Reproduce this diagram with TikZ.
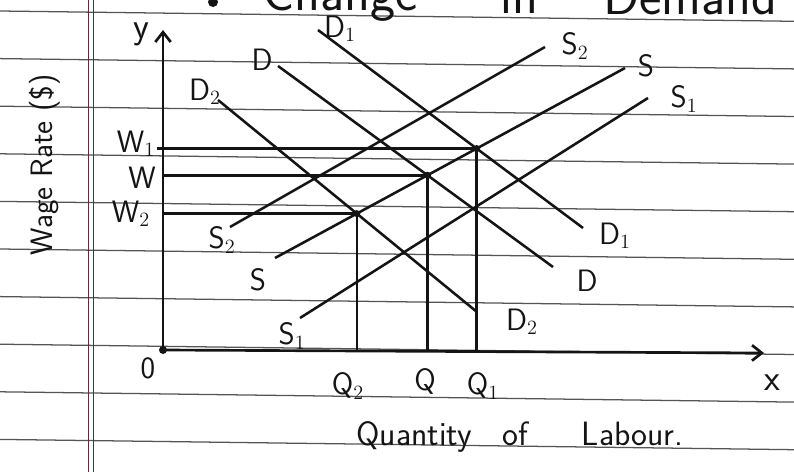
\documentclass[tikz,border=0pt]{standalone}
\usepackage{xcolor}
\usepackage{tikz}
\usetikzlibrary{arrows.meta}
\definecolor{ink}{RGB}{20,20,20}
\definecolor{ruleline}{RGB}{85,85,85}
\definecolor{marginred}{RGB}{95,45,55}

\begin{document}
\begin{tikzpicture}[
      x=0.025cm, y=-0.025cm,
      >={Straight Barb[length=7pt,width=11pt]},
      rule/.style   ={draw=ruleline, line width=0.9pt},
      margin/.style ={draw=marginred, line width=0.7pt},
      axis/.style   ={draw=ink, line width=1.9pt},
      curve/.style  ={draw=ink, line width=1.8pt},
      guide/.style  ={draw=ink, line width=1.8pt},
      lbl/.style    ={font=\sffamily\fontsize{22}{26}\selectfont, text=ink, inner sep=1pt},
      head/.style   ={font=\sffamily\fontsize{38}{40}\selectfont, text=ink, inner sep=0pt}
    ]
    \useasboundingbox (0,0) rectangle (794,472);
    \fill[white] (0,0) rectangle (794,472);
    \clip (0,0) rectangle (794,472);
    % --- ruled paper ---
    \foreach \i in {0,...,9}
      \draw[rule] (0,11+47.6*\i) -- (794,21.3+47.6*\i);
    \draw[margin] (88,0) -- (88,472);
    \draw[margin] (93,0) -- (93,472);
    % --- heading (cut off by the page) ---
    \fill[ink] (213,2) circle (5);
    \node[head, anchor=base west] (tchange) at (262,11) {Change};
    \node[head, anchor=base west] (tin)     at (500,14) {in};
    \node[head, anchor=base west] (tdem)    at (603,15) {Demand};
    % --- axes ---
    \coordinate (O)  at (163,350);
    \coordinate (yt) at (163,30);
    \coordinate (xt) at (764,353);
    \draw[axis, ->] (O) -- (yt);
    \draw[axis, ->] (O) -- (xt);
    \fill[ink] (O) circle (4);
    \node[lbl, font=\sffamily\fontsize{26}{28}\selectfont] (ylab) at (141,34) {y};
    \node[lbl, font=\sffamily\fontsize{26}{28}\selectfont] (xlab) at (772,383) {x};
    \node[lbl] (olab) at (148,368) {0};
    \node[lbl, rotate=90] (wage) at (45,165) {Wage Rate (\$)};
    \node[lbl, font=\sffamily\fontsize{24}{28}\selectfont]
      (qlab) at (520,437) {Quantity\hspace{0.9em}of\hspace{1.6em}Labour.};
    % --- demand curves ---
    \coordinate (d1a) at (318,30);  \coordinate (d1b) at (583,228);
    \coordinate (da)  at (278,66);  \coordinate (db)  at (553,267);
    \coordinate (d2a) at (218,100); \coordinate (d2b) at (477,312);
    \draw[curve] (d1a) -- (d1b);
    \draw[curve] (da)  -- (db);
    \draw[curve] (d2a) -- (d2b);
    \node[lbl] (d1top) at (340,29)  {D$_1$};
    \node[lbl] (d1end) at (615,236) {D$_1$};
    \node[lbl] (dtop)  at (262,60)  {D};
    \node[lbl] (dend)  at (587,281) {D};
    \node[lbl] (d2top) at (205,92)  {D$_2$};
    \node[lbl] (d2end) at (522,322) {D$_2$};
    % --- supply curves ---
    \coordinate (s2a) at (230,227); \coordinate (s2b) at (545,47);
    \coordinate (sa)  at (275,258); \coordinate (sb)  at (625,68);
    \coordinate (s1a) at (300,318); \coordinate (s1b) at (648,98);
    \draw[curve] (s2a) -- (s2b);
    \draw[curve] (sa)  -- (sb);
    \draw[curve] (s1a) -- (s1b);
    \node[lbl] (s2end)   at (575,46)  {S$_2$};
    \node[lbl] (s2start) at (222,240) {S$_2$};
    \node[lbl] (send)    at (646,66)  {S};
    \node[lbl] (sstart)  at (258,280) {S};
    \node[lbl] (s1end)   at (684,99)  {S$_1$};
    \node[lbl] (s1start) at (292,336) {S$_1$};
    % --- equilibria ---
    \coordinate (e1) at (intersection of d1a--d1b and sa--sb);
    \coordinate (e)  at (intersection of da--db and sa--sb);
    \coordinate (e2) at (intersection of d2a--d2b and sa--sb);
    \node[lbl] (w1) at (136,144) {W$_1$};
    \node[lbl] (w)  at (142,178) {W};
    \node[lbl] (w2) at (131,214) {W$_2$};
    \draw[guide] (e1 -| w1.east) -- (e1);
    \draw[guide] (e  -| O) -- (e);
    \draw[guide] (e2 -| O) -- (e2);
    \draw[guide] (e1) -- (e1 |- O);
    \draw[guide] (e)  -- (e |- O);
    \draw[guide] (e2) -- (e2 |- O);
    \foreach \p in {e1,e,e2}
      \fill[ink] (\p) circle (3.5);
    \node[lbl] (q2) at (348,386) {Q$_2$};
    \node[lbl] (q)  at (425,381) {Q};
    \node[lbl] (q1) at (483,386) {Q$_1$};
  \end{tikzpicture}
\end{document}
